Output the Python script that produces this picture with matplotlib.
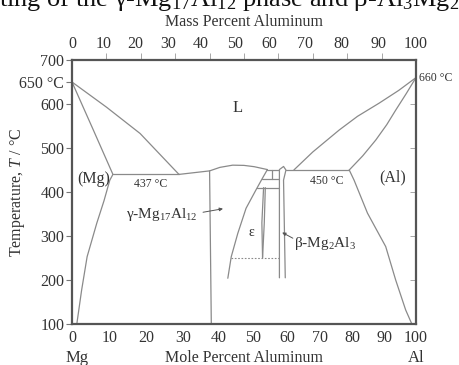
import matplotlib
matplotlib.use("Agg")
import matplotlib.pyplot as plt

plt.rcParams['font.family'] = ['Liberation Serif', 'DejaVu Serif']
plt.rcParams['mathtext.fontset'] = 'custom'
plt.rcParams['mathtext.rm'] = 'Liberation Serif'
plt.rcParams['mathtext.it'] = 'Liberation Serif:italic'

M_MG = 24.305
M_AL = 26.982

# phase boundaries: (mole % Al, temperature in C)
mg_liq_x = [0, 10, 19.8, 31.1]
mg_liq_t = [650, 593, 533, 440]
mg_sol_x = [0, 6.2, 11.9]
mg_sol_t = [650, 541, 440]
mg_solvus_x = [11.9, 11.0, 9.3, 7.2, 4.4, 2.8, 1.4]
mg_solvus_t = [440, 427, 380, 329, 253, 177, 100]
eut1_x = [11.9, 31.1]
eut1_t = [440, 440]

gam_top_x = [31.1, 40, 43, 46.7, 50, 53, 56.8]
gam_top_t = [440, 448, 456, 461, 460.5, 457.5, 451]
gam_left_x = [40, 40.5]
gam_left_t = [448, 100]
gam_right_x = [56.8, 55.2, 53.5, 50.6, 48.2, 46.3, 45.3]
gam_right_t = [451, 429, 405, 363, 306, 253, 204]

# small lines between gamma and beta
h451_x = [56.8, 60.3]
h451_t = [451, 451]
v58_x = [58, 58]
v58_t = [451, 429]
h429_x = [55.2, 60.3]
h429_t = [429, 429]
h410_x = [53.9, 60.3]
h410_t = [410, 410]
eps_l_x = [55.7, 55.2, 55.4]
eps_l_t = [410, 330, 251]
eps_r_x = [56.2, 55.9, 55.4]
eps_r_t = [410, 330, 251]
dot_x = [46.3, 60.3]
dot_t = [251, 251]

beta_left_x = [61.5, 60.3, 60.3]
beta_left_t = [458, 451, 205]
beta_right_x = [61.5, 62.2, 61.5, 62.0]
beta_right_t = [458, 450, 427, 205]

eut2_x = [62.2, 80.6]
eut2_t = [450, 450]
al_liq_x = [64.5, 70, 74, 77.7, 83, 89.3, 95, 100]
al_liq_t = [450, 491, 517, 541, 572, 602, 631, 660]
al_sol_x = [80.6, 84.5, 88.3, 91.5, 94.1, 97.2, 100]
al_sol_t = [450, 482, 518, 553, 586, 624, 660]
al_solvus_x = [80.6, 82, 85.9, 91.2, 94.1, 97, 98.8]
al_solvus_t = [450, 427, 352, 276, 200, 132, 100]

mole_ticks = [0, 10, 20, 30, 40, 50, 60, 70, 80, 90, 100]
mass_ticks = [0, 10, 20, 30, 40, 50, 60, 70, 80, 90, 100]
temp_ticks = [100, 200, 300, 400, 500, 600, 650, 700]


def mass_to_mole(w):
    a = w / M_AL
    m = (100 - w) / M_MG
    return 100 * a / (a + m)


def mole_to_mass(x):
    a = x * M_AL
    m = (100 - x) * M_MG
    return 100 * a / (a + m)


fig = plt.figure(figsize=(4.6, 3.65), dpi=100)
ax = fig.add_axes([0.1565, 0.1123, 0.7478, 0.7233])
lc = '#8a8a8a'
lw = 0.9
segs = [(mg_liq_x, mg_liq_t), (mg_sol_x, mg_sol_t), (mg_solvus_x, mg_solvus_t),
        (eut1_x, eut1_t), (gam_top_x, gam_top_t), (gam_left_x, gam_left_t),
        (gam_right_x, gam_right_t), (h451_x, h451_t), (v58_x, v58_t),
        (h429_x, h429_t), (h410_x, h410_t), (eps_l_x, eps_l_t), (eps_r_x, eps_r_t),
        (beta_left_x, beta_left_t), (beta_right_x, beta_right_t), (eut2_x, eut2_t),
        (al_liq_x, al_liq_t), (al_sol_x, al_sol_t), (al_solvus_x, al_solvus_t)]
for xs, ts in segs:
    ax.plot(xs, ts, color=lc, lw=lw, solid_capstyle='round')
ax.plot(dot_x, dot_t, color=lc, lw=0.8, ls=(0, (1.5, 1.5)))

ax.set_xlim(0, 100)
ax.set_ylim(100, 700)
for s in ax.spines.values():
    s.set_color('#555555')
    s.set_linewidth(1.6)

tc = '#333333'
ax.set_yticks(temp_ticks)
ax.set_yticklabels([str(t) if t != 650 else '650 °C' for t in temp_ticks])
for lab in ax.get_yticklabels():
    if lab.get_text() == '650 °C':
        lab.set_fontsize(8.5)
ax.tick_params(axis='y', direction='out', length=4, width=0.8, colors='#777777',
               labelcolor=tc, labelsize=11.5, pad=1.5)
ax.set_xticks([mole_to_mass(x) for x in mole_ticks])
ax.set_xticklabels([str(x) for x in mole_ticks])
ax.tick_params(axis='x', length=0, labelcolor=tc, labelsize=11.5, pad=4)

top = ax.secondary_xaxis('top')
top.set_xticks([mass_to_mole(w) for w in mass_ticks])
top.set_xticklabels([str(w) for w in mass_ticks])
top.set_xticks(mole_ticks, minor=True)
top.tick_params(which='major', length=0, labelcolor=tc, labelsize=11.5, pad=6)
top.tick_params(which='minor', length=5, width=0.6, color='#999999', direction='out')
top.spines['top'].set_visible(False)

right = ax.secondary_yaxis('right')
right.set_yticks([200, 300, 400, 500, 600])
right.set_yticklabels([])
right.tick_params(direction='in', length=4, width=0.6, color='#999999')
right.spines['right'].set_visible(False)

ax.set_ylabel('Temperature, $T$ / °C', fontsize=11.5, color=tc)
ax.yaxis.set_label_coords(-0.131, 0.5)
top.set_xlabel('Mass Percent Aluminum', fontsize=11.5, color=tc, labelpad=7)
ax.set_xlabel('Mole Percent Aluminum', fontsize=11.5, color=tc, labelpad=3)
ax.text(1.5, 23, 'Mg', fontsize=12, color=tc, ha='center', va='center', clip_on=False)
ax.text(100, 23, 'Al', fontsize=12, color=tc, ha='center', va='center', clip_on=False)
ax.text(101, 660, '660 °C', fontsize=8.5, color=tc, ha='left', va='center', clip_on=False)

ax.text(48.1, 591, 'L', fontsize=12, color=tc, ha='center', va='center')
ax.text(6.2, 430, '(Mg)', fontsize=11.5, color=tc, ha='center', va='center')
ax.text(23, 418, '437 °C', fontsize=8.5, color=tc, ha='center', va='center')
ax.text(74.2, 424, '450 °C', fontsize=8.5, color=tc, ha='center', va='center')
ax.text(93.3, 434, '(Al)', fontsize=11.5, color=tc, ha='center', va='center')
ax.text(26.1, 348, 'γ-Mg$_{17}$Al$_{12}$', fontsize=11, color=tc, ha='center', va='center')
ax.text(52.2, 309, 'ε', fontsize=10, color=tc, ha='center', va='center')
ax.text(73.6, 284, 'β-Mg$_2$Al$_3$', fontsize=11, color=tc, ha='center', va='center')
ax.annotate('', xy=(43.9, 362), xytext=(38.1, 354),
            arrowprops=dict(arrowstyle='-|>', color='#555555', lw=0.7,
                            mutation_scale=5, shrinkA=0, shrinkB=0))
ax.annotate('', xy=(61.1, 308), xytext=(64.2, 295),
            arrowprops=dict(arrowstyle='-|>', color='#555555', lw=0.7,
                            mutation_scale=5, shrinkA=0, shrinkB=0))

fig.text(-0.003, 0.983, 'ting of the γ-Mg$_{17}$Al$_{12}$ phase and β-Al$_3$Mg$_2$',
         fontsize=19, color='#111111', ha='left', va='baseline')

fig.savefig('out.png', dpi=100)
